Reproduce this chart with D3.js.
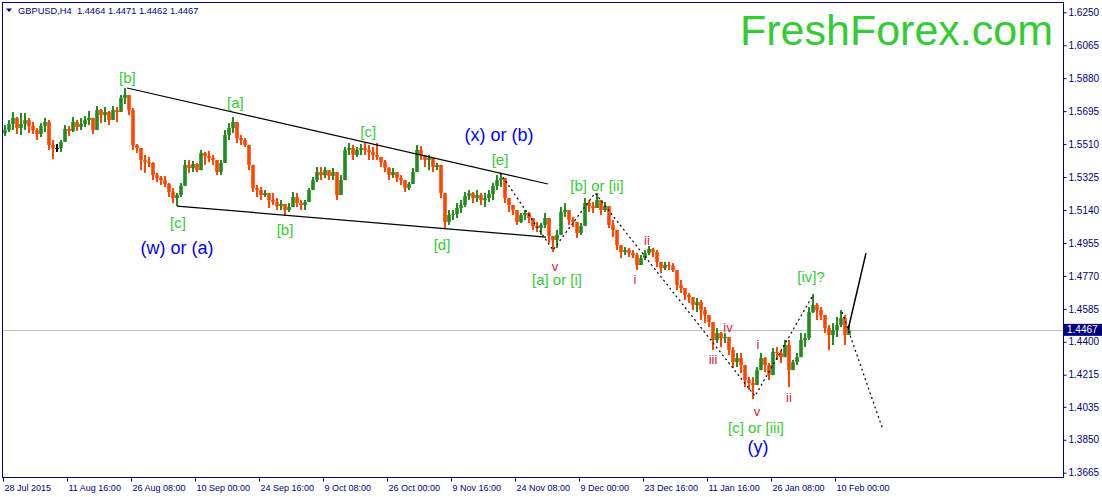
<!DOCTYPE html>
<html>
<head>
<meta charset="utf-8">
<script src="https://cdn.jsdelivr.net/npm/d3@7"></script>
<style>
  body { margin: 0; background: #fff; }
  svg { display: block; font-family: "Liberation Sans", Arial, sans-serif; }
</style>
</head>
<body>
<div id="chart"></div>
<script>
// GBPUSD H4, each bar below groups four H4 candles
const symbolTitle = 'GBPUSD,H4  1.4464 1.4471 1.4462 1.4467';
const firstOpen = 1.5570;
const lastPrice = 1.4467;

const closes = [
  1.5589, 1.5623, 1.5657, 1.5600, 1.5623, 1.5645, 1.5612, 1.5589, 1.5567, 1.5612,
  1.5634, 1.5505, 1.5488, 1.5488, 1.5522, 1.5595, 1.5584, 1.5634, 1.5606, 1.5623,
  1.5645, 1.5657, 1.5589, 1.5701, 1.5673, 1.5690, 1.5645, 1.5701, 1.5690, 1.5769,
  1.5786, 1.5701, 1.5505, 1.5488, 1.5421, 1.5409, 1.5404, 1.5336, 1.5320, 1.5308,
  1.5286, 1.5241, 1.5207, 1.5224, 1.5275, 1.5393, 1.5376, 1.5398, 1.5364, 1.5460,
  1.5443, 1.5432, 1.5421, 1.5353, 1.5404, 1.5561, 1.5600, 1.5634, 1.5544, 1.5533,
  1.5505, 1.5393, 1.5263, 1.5252, 1.5224, 1.5235, 1.5196, 1.5185, 1.5162, 1.5174,
  1.5140, 1.5157, 1.5213, 1.5179, 1.5168, 1.5185, 1.5252, 1.5308, 1.5353, 1.5336,
  1.5364, 1.5331, 1.5353, 1.5224, 1.5308, 1.5477, 1.5488, 1.5449, 1.5477, 1.5488,
  1.5477, 1.5466, 1.5449, 1.5438, 1.5409, 1.5376, 1.5336, 1.5353, 1.5320, 1.5308,
  1.5263, 1.5286, 1.5353, 1.5477, 1.5449, 1.5421, 1.5432, 1.5381, 1.5393, 1.5235,
  1.5073, 1.5112, 1.5117, 1.5151, 1.5168, 1.5219, 1.5235, 1.5207, 1.5224, 1.5196,
  1.5207, 1.5230, 1.5275, 1.5308, 1.5320, 1.5207, 1.5168, 1.5140, 1.5073, 1.5112,
  1.5123, 1.5095, 1.5050, 1.5039, 1.5056, 1.5095, 1.4994, 1.4971, 1.5000, 1.5129,
  1.5140, 1.5084, 1.5073, 1.5011, 1.5050, 1.5179, 1.5162, 1.5151, 1.5196, 1.5140,
  1.5162, 1.5056, 1.5028, 1.4943, 1.4904, 1.4915, 1.4898, 1.4887, 1.4831, 1.4870,
  1.4898, 1.4921, 1.4904, 1.4848, 1.4814, 1.4831, 1.4825, 1.4803, 1.4719, 1.4702,
  1.4663, 1.4651, 1.4606, 1.4623, 1.4578, 1.4550, 1.4511, 1.4410, 1.4449, 1.4421,
  1.4427, 1.4354, 1.4286, 1.4309, 1.4270, 1.4185, 1.4169, 1.4157, 1.4241, 1.4309,
  1.4270, 1.4213, 1.4343, 1.4337, 1.4314, 1.4382, 1.4241, 1.4286, 1.4314, 1.4410,
  1.4421, 1.4567, 1.4606, 1.4578, 1.4550, 1.4477, 1.4438, 1.4466, 1.4494, 1.4533,
  1.4438, 1.4467
];

const highs = [
  1.5617, 1.5645, 1.5690, 1.5662, 1.5685, 1.5685, 1.5657, 1.5634, 1.5600, 1.5628,
  1.5657, 1.5645, 1.5533, 1.5510, 1.5533, 1.5617, 1.5612, 1.5662, 1.5645, 1.5657,
  1.5668, 1.5696, 1.5617, 1.5724, 1.5707, 1.5718, 1.5696, 1.5724, 1.5718, 1.5786,
  1.5825, 1.5741, 1.5713, 1.5510, 1.5460, 1.5449, 1.5438, 1.5409, 1.5348, 1.5331,
  1.5331, 1.5292, 1.5263, 1.5235, 1.5292, 1.5421, 1.5421, 1.5415, 1.5404, 1.5477,
  1.5466, 1.5471, 1.5449, 1.5415, 1.5421, 1.5589, 1.5628, 1.5662, 1.5589, 1.5561,
  1.5544, 1.5505, 1.5376, 1.5280, 1.5269, 1.5252, 1.5224, 1.5235, 1.5207, 1.5196,
  1.5162, 1.5179, 1.5241, 1.5235, 1.5196, 1.5196, 1.5263, 1.5325, 1.5381, 1.5381,
  1.5381, 1.5364, 1.5376, 1.5308, 1.5336, 1.5494, 1.5516, 1.5505, 1.5494, 1.5510,
  1.5516, 1.5505, 1.5494, 1.5516, 1.5438, 1.5421, 1.5381, 1.5376, 1.5353, 1.5336,
  1.5308, 1.5297, 1.5376, 1.5505, 1.5499, 1.5449, 1.5449, 1.5409, 1.5404, 1.5364,
  1.5224, 1.5140, 1.5140, 1.5179, 1.5196, 1.5241, 1.5252, 1.5241, 1.5252, 1.5235,
  1.5235, 1.5252, 1.5292, 1.5336, 1.5348, 1.5308, 1.5207, 1.5157, 1.5140, 1.5123,
  1.5140, 1.5129, 1.5095, 1.5073, 1.5067, 1.5123, 1.5084, 1.4994, 1.5028, 1.5157,
  1.5179, 1.5123, 1.5101, 1.5044, 1.5067, 1.5207, 1.5196, 1.5185, 1.5235, 1.5185,
  1.5185, 1.5140, 1.5084, 1.5028, 1.4932, 1.4932, 1.4927, 1.4915, 1.4898, 1.4887,
  1.4915, 1.4938, 1.4927, 1.4915, 1.4848, 1.4848, 1.4848, 1.4842, 1.4792, 1.4747,
  1.4702, 1.4674, 1.4651, 1.4646, 1.4635, 1.4595, 1.4550, 1.4483, 1.4477, 1.4455,
  1.4449, 1.4421, 1.4371, 1.4337, 1.4337, 1.4230, 1.4202, 1.4202, 1.4258, 1.4337,
  1.4314, 1.4281, 1.4365, 1.4371, 1.4354, 1.4410, 1.4410, 1.4298, 1.4337, 1.4449,
  1.4449, 1.4595, 1.4668, 1.4618, 1.4595, 1.4522, 1.4494, 1.4505, 1.4539, 1.4578,
  1.4550, 1.4494
];

const lows = [
  1.5555, 1.5578, 1.5589, 1.5567, 1.5561, 1.5589, 1.5572, 1.5567, 1.5533, 1.5550,
  1.5578, 1.5477, 1.5426, 1.5466, 1.5466, 1.5561, 1.5555, 1.5578, 1.5584, 1.5589,
  1.5606, 1.5617, 1.5567, 1.5623, 1.5628, 1.5634, 1.5617, 1.5662, 1.5634, 1.5713,
  1.5735, 1.5673, 1.5477, 1.5460, 1.5364, 1.5348, 1.5381, 1.5308, 1.5297, 1.5280,
  1.5269, 1.5213, 1.5179, 1.5162, 1.5213, 1.5308, 1.5348, 1.5353, 1.5353, 1.5404,
  1.5393, 1.5409, 1.5393, 1.5336, 1.5336, 1.5494, 1.5533, 1.5572, 1.5516, 1.5505,
  1.5494, 1.5364, 1.5241, 1.5213, 1.5196, 1.5213, 1.5151, 1.5168, 1.5140, 1.5140,
  1.5106, 1.5129, 1.5168, 1.5157, 1.5140, 1.5140, 1.5213, 1.5252, 1.5297, 1.5308,
  1.5320, 1.5308, 1.5308, 1.5196, 1.5252, 1.5438, 1.5449, 1.5421, 1.5438, 1.5449,
  1.5449, 1.5421, 1.5421, 1.5421, 1.5381, 1.5353, 1.5308, 1.5320, 1.5297, 1.5280,
  1.5241, 1.5252, 1.5297, 1.5364, 1.5421, 1.5381, 1.5364, 1.5353, 1.5364, 1.5207,
  1.5033, 1.5056, 1.5084, 1.5095, 1.5123, 1.5157, 1.5196, 1.5179, 1.5185, 1.5168,
  1.5157, 1.5185, 1.5196, 1.5252, 1.5269, 1.5179, 1.5129, 1.5112, 1.5056, 1.5067,
  1.5084, 1.5067, 1.5028, 1.5016, 1.5000, 1.5039, 1.4955, 1.4904, 1.4927, 1.5011,
  1.5101, 1.5056, 1.5044, 1.4983, 1.5000, 1.5123, 1.5129, 1.5123, 1.5157, 1.5112,
  1.5129, 1.5039, 1.4988, 1.4915, 1.4870, 1.4887, 1.4876, 1.4870, 1.4803, 1.4831,
  1.4859, 1.4887, 1.4876, 1.4820, 1.4786, 1.4803, 1.4803, 1.4792, 1.4691, 1.4674,
  1.4635, 1.4618, 1.4578, 1.4567, 1.4522, 1.4505, 1.4483, 1.4354, 1.4393, 1.4371,
  1.4393, 1.4326, 1.4253, 1.4258, 1.4225, 1.4146, 1.4129, 1.4079, 1.4202, 1.4241,
  1.4230, 1.4185, 1.4225, 1.4298, 1.4281, 1.4314, 1.4146, 1.4241, 1.4270, 1.4354,
  1.4371, 1.4410, 1.4562, 1.4522, 1.4522, 1.4449, 1.4354, 1.4382, 1.4427, 1.4483,
  1.4382, 1.4449
];

const priceTicks = ['1.6250', '1.6065', '1.5880', '1.5695', '1.5510', '1.5325', '1.5140',
  '1.4955', '1.4770', '1.4585', '1.4400', '1.4215', '1.4035', '1.3850', '1.3665'];

const dateTicks = ['28 Jul 2015', '11 Aug 16:00', '26 Aug 08:00', '10 Sep 00:00', '24 Sep 16:00',
  '9 Oct 08:00', '26 Oct 00:00', '9 Nov 16:00', '24 Nov 08:00', '9 Dec 00:00', '23 Dec 16:00',
  '11 Jan 16:00', '26 Jan 08:00', '10 Feb 00:00'];
const barsPerDateTick = 16;

// wave markup: [bar index, price] anchors
const trendLines = [
  [[31, 1.5825], [136.25, 1.5286]],
  [[43.5, 1.5162], [135.75, 1.4988]]
];
const dottedPaths = [
  [[124.25, 1.5348], [137.5, 1.4915], [148, 1.5235], [188, 1.4095], [202.5, 1.4662]],
  [[209.75, 1.4567], [220, 1.3905]]
];
const forecastLine = [[211.25, 1.4466], [215.75, 1.4898]];

const greenLabels = [
  ['[b]', 31.1, 1.5886], ['[a]', 58.1, 1.5741], ['[c]', 91.3, 1.5583], ['[e]', 124.25, 1.5426],
  ['[b] or [ii]', 148.5, 1.5280], ['[c]', 43.75, 1.5067], ['[b]', 70.5, 1.5028],
  ['[d]', 109.75, 1.4946], ['[a] or [i]', 138.5, 1.4747], ['[iv]?', 202, 1.4764],
  ['[c] or [iii]', 188.25, 1.3921]
];
const blueLabels = [
  ['(w) or (a)', 43.5, 1.4926], ['(x) or (b)', 124, 1.5561], ['(y)', 188.75, 1.3809]
];
const redLabels = [
  ['v', 138, 1.4825], ['ii', 161, 1.4971], ['i', 158, 1.4752], ['iv', 181.25, 1.4483],
  ['iii', 177.5, 1.4303], ['i', 188.75, 1.4387], ['v', 188.5, 1.4006], ['ii', 196.5, 1.4090]
];

const width = 1102;
const height = 497;
const plot = { left: 2, right: 1063, top: 2, bottom: 477 };
const navy = '#000080';

const svg = d3.select('#chart')
  .append('svg')
  .attr('width', width)
  .attr('height', height);

const x = d3.scaleLinear().domain([0, 265]).range([3, 1063]);
const y = d3.scaleLinear().domain([1.3665, 1.6250]).range([472.7, 12.3]);

const bars = closes.map((c, i) => {
  const o = i ? closes[i - 1] : firstOpen;
  return { i, o, c, h: Math.max(highs[i], o, c), l: Math.min(lows[i], o, c) };
});
const barColor = d => (d.c > d.o ? '#228B22' : d.c < d.o ? '#FF4500' : '#000000');

// last price line
svg.append('line')
  .attr('x1', plot.left).attr('x2', plot.right)
  .attr('y1', Math.round(y(lastPrice)) + 0.5).attr('y2', Math.round(y(lastPrice)) + 0.5)
  .attr('stroke', '#C0C0C0');

const candles = svg.append('g');
candles.selectAll('rect.wick')
  .data(bars)
  .enter()
  .append('rect')
  .attr('class', 'wick')
  .attr('x', d => x(d.i) + 1)
  .attr('width', 2)
  .attr('y', d => y(d.h))
  .attr('height', d => Math.max(1, y(d.l) - y(d.h)))
  .attr('fill', barColor);
candles.selectAll('rect.body')
  .data(bars)
  .enter()
  .append('rect')
  .attr('class', 'body')
  .attr('x', d => x(d.i) + 0.2)
  .attr('width', 3.6)
  .attr('y', d => y(Math.max(d.o, d.c)))
  .attr('height', d => Math.max(1, Math.abs(y(d.o) - y(d.c))))
  .attr('fill', barColor);

// wave lines
const line = d3.line().x(d => x(d[0])).y(d => y(d[1]));
svg.selectAll('path.trend')
  .data(trendLines)
  .enter()
  .append('path')
  .attr('fill', 'none')
  .attr('stroke', '#000')
  .attr('stroke-width', 1.2)
  .attr('d', line);
svg.selectAll('path.dotted')
  .data(dottedPaths)
  .enter()
  .append('path')
  .attr('fill', 'none')
  .attr('stroke', '#000')
  .attr('stroke-width', 1.2)
  .attr('stroke-dasharray', '2,3')
  .attr('d', line);
svg.append('path')
  .datum(forecastLine)
  .attr('fill', 'none')
  .attr('stroke', '#000')
  .attr('stroke-width', 1.5)
  .attr('d', line);

function addLabels(list, size, color) {
  svg.append('g')
    .selectAll('text')
    .data(list)
    .enter()
    .append('text')
    .attr('x', d => x(d[1]))
    .attr('y', d => y(d[2]))
    .attr('text-anchor', 'middle')
    .attr('dominant-baseline', 'central')
    .attr('font-size', size)
    .attr('fill', color)
    .text(d => d[0]);
}
addLabels(greenLabels, 15, '#32CD32');
addLabels(blueLabels, 18, '#0000FF');
addLabels(redLabels, 13, '#DC143C');

// logo
svg.append('text')
  .attr('x', 1053)
  .attr('y', 45)
  .attr('text-anchor', 'end')
  .attr('font-size', 43)
  .attr('fill', '#32CD32')
  .text('FreshForex.com');

// frame
svg.append('rect')
  .attr('x', plot.left + 0.5).attr('y', plot.top + 0.5)
  .attr('width', plot.right - plot.left).attr('height', plot.bottom - plot.top)
  .attr('fill', 'none')
  .attr('stroke', navy);

// price axis
const yAxis = svg.append('g')
  .attr('transform', `translate(${plot.right + 0.5},0)`)
  .call(d3.axisRight(y)
    .tickValues(priceTicks.map(Number))
    .tickFormat((d, i) => priceTicks[i])
    .tickSize(3)
    .tickPadding(2));
yAxis.select('.domain').remove();
yAxis.selectAll('line').attr('stroke', navy);
yAxis.selectAll('text')
  .attr('font-family', '"Liberation Sans", Arial, sans-serif')
  .attr('font-size', 10)
  .attr('fill', navy);

// current price box
const py = y(lastPrice);
svg.append('rect')
  .attr('x', plot.right).attr('y', py - 6)
  .attr('width', 39).attr('height', 12)
  .attr('fill', navy);
svg.append('text')
  .attr('x', plot.right + 4).attr('y', py)
  .attr('dominant-baseline', 'central')
  .attr('font-size', 10)
  .attr('fill', '#fff')
  .text(lastPrice.toFixed(4));

// date axis
const xAxis = svg.append('g')
  .attr('transform', `translate(0,${plot.bottom + 0.5})`)
  .call(d3.axisBottom(x)
    .tickValues(dateTicks.map((d, i) => i * barsPerDateTick))
    .tickFormat((d, i) => dateTicks[i])
    .tickSize(4)
    .tickPadding(3));
xAxis.select('.domain').remove();
xAxis.selectAll('line').attr('stroke', navy);
xAxis.selectAll('text')
  .attr('text-anchor', 'start')
  .attr('x', 1)
  .attr('font-family', '"Liberation Sans", Arial, sans-serif')
  .attr('font-size', 9)
  .attr('fill', navy);

// title
svg.append('path')
  .attr('d', 'M6,8.5L12,8.5L9,12Z')
  .attr('fill', navy);
svg.append('text')
  .attr('x', 18)
  .attr('y', 14)
  .attr('font-size', 9.3)
  .attr('fill', navy)
  .style('white-space', 'pre')
  .text(symbolTitle);
</script>
</body>
</html>
